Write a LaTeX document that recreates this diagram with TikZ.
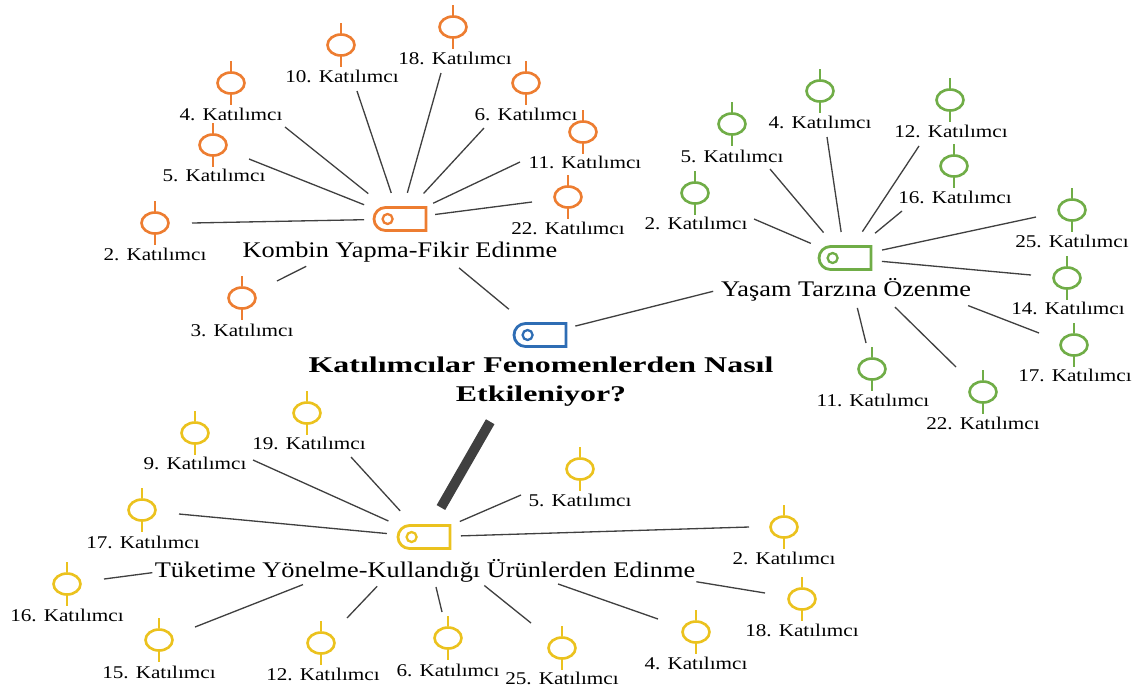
\documentclass[tikz,border=0pt]{standalone}
\usepackage{fontspec}
\setmainfont{Liberation Serif}[FakeStretch=1.18]
\newfontfamily\titlefont{Liberation Serif}[FakeStretch=1.42]
\usetikzlibrary{shapes.geometric,shapes.misc}
\definecolor{cO}{HTML}{ED7D31}
\definecolor{cG}{HTML}{70AD47}
\definecolor{cY}{HTML}{EBC21E}
\definecolor{cB}{HTML}{2E6DB4}
\definecolor{edgegray}{HTML}{404040}
\tikzset{
  edge/.style={draw=edgegray, line width=0.75pt},
  thicklink/.style={draw=edgegray, line width=5.6pt},
  picon/.style={ellipse, draw=#1, line width=1.5pt, minimum width=0.54cm, minimum height=0.42cm, inner sep=0pt},
  stem/.style={draw=#1, line width=1.5pt},
  plabel/.style={font=\fontsize{10.2}{12}\selectfont, inner sep=0pt},
  hub/.style={rounded rectangle, rounded rectangle right arc=none, draw=#1, line width=1.6pt, minimum width=1.04cm, minimum height=0.46cm, inner sep=0pt},
  hubdot/.style={circle, draw=#1, line width=1.3pt, minimum size=0.2cm, inner sep=0pt},
  hublabel/.style={font=\fontsize{12.7}{15}\selectfont, inner sep=0pt},
  titlelabel/.style={font=\titlefont\bfseries\fontsize{12.8}{16.4}\selectfont, align=center, inner sep=0pt},
}
% participant: name, colour, icon x, icon y, label x, label y, text
\newcommand\ptc[7]{%
  \node[picon=#2] (#1i) at (#3,#4) {};
  \draw[stem=#2] (#1i.north) -- ++(0,-10);
  \draw[stem=#2] (#1i.south) -- ++(0,10);
  \node[plabel] (#1) at (#5,#6) {#7};}
% link: hub, start distance (px), end coordinate name, x, y
\newcommand\lnk[5]{%
  \coordinate (#3) at (#4,#5);
  \draw[edge, shorten <=#2*0.02cm] (#1.center) -- (#3);}
% hub: name, colour, x, y
\newcommand\hubicon[4]{%
  \node[hub=#2] (#1) at (#3,#4) {};
  \node[hubdot=#2] (#1d) at ([xshift=0.3cm]#1.west) {};}
\begin{document}
\begin{tikzpicture}[x=0.02cm, y=-0.02cm]
\useasboundingbox (0,0) rectangle (1142,691);

% hubs
\hubicon{hubC}{cB}{540}{335}
\hubicon{hubO}{cO}{400}{219}
\hubicon{hubG}{cG}{845}{258}
\hubicon{hubY}{cY}{424}{537}

\node[titlelabel] (title) at (541,382) {Katılımcılar Fenomenlerden Nasıl\\Etkileniyor?};
\node[hublabel] (labO) at (400,252) {Kombin Yapma-Fikir Edinme};
\node[hublabel] (labG) at (846,290) {Yaşam Tarzına Özenme};
\node[hublabel] (labY) at (425,571) {Tüketime Yönelme-Kullandığı Ürünlerden Edinme};

% links between hubs
\draw[edge, shorten <=76.7*0.02cm, shorten >=40.4*0.02cm] (hubO.center) -- (hubC.center);
\draw[edge, shorten <=136*0.02cm, shorten >=36.4*0.02cm] (hubG.center) -- (hubC.center);
\draw[thicklink, shorten <=100*0.02cm, shorten >=34*0.02cm] (hubC.center) -- (hubY.center);

% orange participants
\ptc{o18}{cO}{453}{27}{455}{58}{18. Katılımcı}
\ptc{o10}{cO}{341}{45}{342}{76}{10. Katılımcı}
\ptc{o4}{cO}{231}{83}{231}{114}{4. Katılımcı}
\ptc{o6}{cO}{526}{83}{526}{114}{6. Katılımcı}
\ptc{o5}{cO}{213}{145}{214}{175}{5. Katılımcı}
\ptc{o11}{cO}{583}{132}{585}{162}{11. Katılımcı}
\ptc{o22}{cO}{568}{197}{568}{228}{22. Katılımcı}
\ptc{o2}{cO}{155}{223}{155}{254}{2. Katılımcı}
\ptc{o3}{cO}{242}{298}{242}{330}{3. Katılımcı}
\lnk{hubO}{40.6}{o4e}{285}{127}
\lnk{hubO}{27.5}{o10e}{357}{91}
\lnk{hubO}{27.2}{o18e}{441}{73}
\lnk{hubO}{34.7}{o6e}{484}{128}
\lnk{hubO}{36.7}{o11e}{520}{162}
\lnk{hubO}{35.4}{o22e}{532}{202}
\lnk{hubO}{38.6}{o5e}{249}{159}
\lnk{hubO}{36}{o2e}{192}{223}
\lnk{hubO}{105}{o3e}{277}{281}

% green participants
\ptc{g4}{cG}{820}{91}{820}{122}{4. Katılımcı}
\ptc{g5}{cG}{732}{124}{732}{156}{5. Katılımcı}
\ptc{g12}{cG}{950}{100}{951}{131}{12. Katılımcı}
\ptc{g16}{cG}{954}{166}{955}{197}{16. Katılımcı}
\ptc{g2}{cG}{695}{193}{696}{223}{2. Katılımcı}
\ptc{g25}{cG}{1072}{210}{1072}{241}{25. Katılımcı}
\ptc{g14}{cG}{1067}{278}{1068}{308}{14. Katılımcı}
\ptc{g17}{cG}{1074}{345}{1075}{375}{17. Katılımcı}
\ptc{g11}{cG}{872}{369}{873}{400}{11. Katılımcı}
\ptc{g22}{cG}{983}{392}{983}{423}{22. Katılımcı}
\lnk{hubG}{33.3}{g5e}{770}{169}
\lnk{hubG}{26.3}{g4e}{827}{137}
\lnk{hubG}{31.6}{g12e}{919}{146}
\lnk{hubG}{39}{g16e}{902}{211}
\lnk{hubG}{37.2}{g2e}{754}{219}
\lnk{hubG}{37.9}{g25e}{1036}{217}
\lnk{hubG}{37.1}{g14e}{1031}{275}
\lnk{hubG}{132}{g17e}{1039}{333}
\lnk{hubG}{51.4}{g11e}{866}{343}
\lnk{hubG}{70}{g22e}{956}{367}

% yellow participants
\ptc{y19}{cY}{307}{413}{309}{443}{19. Katılımcı}
\ptc{y9}{cY}{195}{433}{195}{463}{9. Katılımcı}
\ptc{y5}{cY}{580}{469}{580}{500}{5. Katılımcı}
\ptc{y17}{cY}{142}{510}{143}{542}{17. Katılımcı}
\ptc{y2}{cY}{784}{527}{784}{558}{2. Katılımcı}
\ptc{y16}{cY}{67}{584}{67}{615}{16. Katılımcı}
\ptc{y18}{cY}{802}{599}{802}{630}{18. Katılımcı}
\ptc{y15}{cY}{159}{640}{159}{672}{15. Katılımcı}
\ptc{y12}{cY}{321}{643}{323}{674}{12. Katılımcı}
\ptc{y6}{cY}{448}{638}{448}{670}{6. Katılımcı}
\ptc{y25}{cY}{562}{648}{562}{678}{25. Katılımcı}
\ptc{y4}{cY}{696}{632}{696}{663}{4. Katılımcı}
\lnk{hubY}{39}{y9e}{253}{460}
\lnk{hubY}{35.4}{y19e}{351}{457}
\lnk{hubY}{39}{y5e}{521}{495}
\lnk{hubY}{37.2}{y17e}{179}{514}
\lnk{hubY}{37}{y2e}{749}{527}
\lnk{hubY}{274}{y16e}{104}{579}
\lnk{hubY}{130}{y15e}{195}{627}
\lnk{hubY}{68}{y12e}{347}{618}
\lnk{hubY}{51.4}{y6e}{442}{612}
\lnk{hubY}{77.4}{y25e}{531}{623}
\lnk{hubY}{142}{y4e}{658}{619}
\lnk{hubY}{276}{y18e}{765}{593}
\end{tikzpicture}
\end{document}
